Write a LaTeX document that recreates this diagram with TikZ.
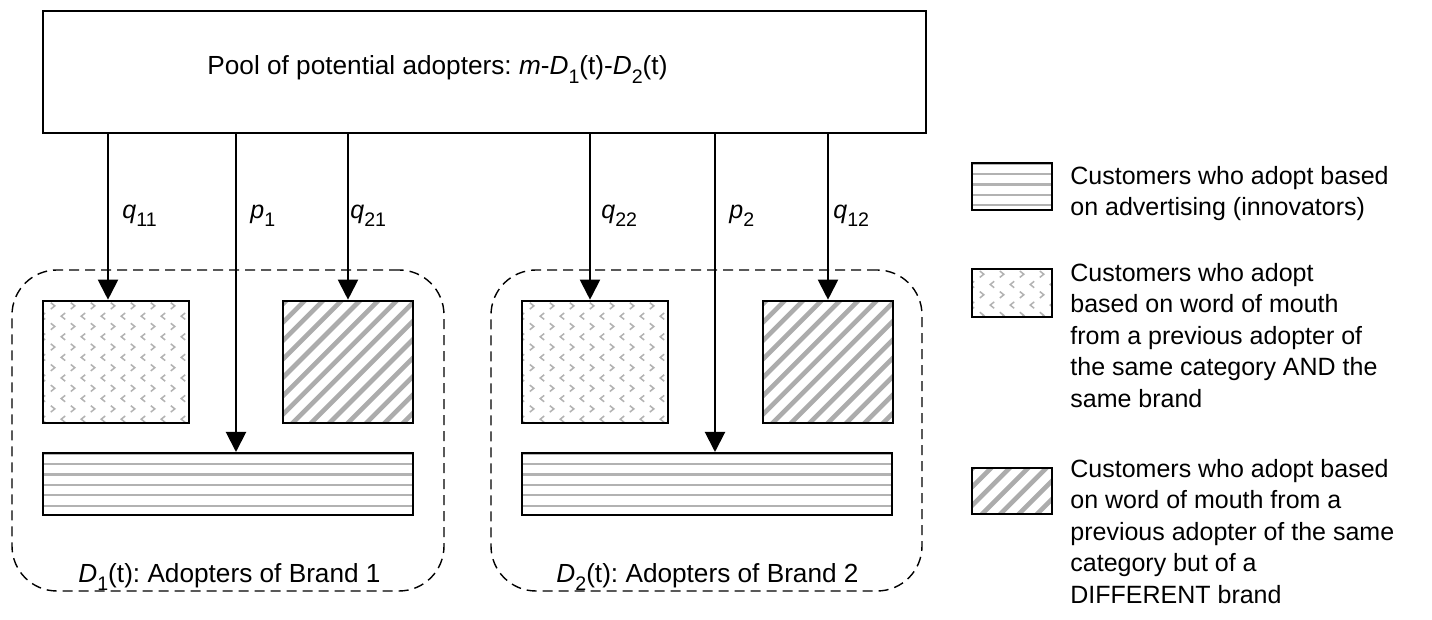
\documentclass[tikz,border=0pt]{standalone}
\usepackage{fontspec}
\setmainfont{Liberation Sans}
\usetikzlibrary{arrows.meta}
\frenchspacing

% lowered index, as in D_1
\newcommand\lowidx[1]{\raisebox{-0.32em}{\fontsize{9.8pt}{10pt}\selectfont #1}}

\tikzset{
  txt/.style={font=\fontsize{12.5pt}{15.75pt}\selectfont, inner sep=0pt},
  bigtxt/.style={font=\fontsize{13.1pt}{15.75pt}\selectfont, inner sep=0pt},
  sz/.style 2 args={minimum width=#1*0.5pt, minimum height=#2*0.5pt},
  box/.style={draw, line width=1pt, inner sep=0pt, fill=white},
  group/.style={draw, dashed, dash pattern=on 5pt off 3pt, line width=0.7pt,
    rounded corners=22.5pt, inner sep=0pt},
  arr/.style={line width=1pt, -{Triangle[length=10pt,width=10pt]}},
  hl/.style={draw=gray!60, line width=1.1pt},
  dl/.style={draw=gray!65, line width=2.3pt},
  ch/.style={draw=gray!60, line width=0.75pt},
  % innovators: horizontal lines
  hpat/.style={box, path picture={
    \foreach \k in {0,...,14}
      \draw[hl] ([yshift=-0.4pt-\k*5.2pt, xshift=-2pt]path picture bounding box.north west) -- ++(300pt,0);
  }},
  % word of mouth, other brand: diagonal stripes
  dpat/.style={box, path picture={
    \foreach \k in {-12,...,12}
      \draw[dl] ([xshift=5pt+\k*9.2pt]path picture bounding box.south west) ++(-80pt,-80pt) -- ++(200pt,200pt);
  }},
  % word of mouth, same brand: scattered chevrons
  wpat/.style={box, path picture={
    \foreach \i in {0,...,8}
      \foreach \j in {0,...,7} {
        \draw[ch] ([xshift=\i*10pt, yshift=-7.75pt-\j*10.3pt]path picture bounding box.north west)
          ++(1.1pt,1.6pt) -- ++(-2pt,-1.6pt) -- ++(2pt,-1.6pt);
        \draw[ch] ([xshift=5pt+\i*10pt, yshift=-2.6pt-\j*10.3pt]path picture bounding box.north west)
          ++(-1.1pt,1.6pt) -- ++(2pt,-1.6pt) -- ++(-2pt,-1.6pt);
      }
  }},
}

\begin{document}
\begin{tikzpicture}[x=0.5pt, y=-0.5pt]
\useasboundingbox (0,0) rectangle (1432,620);

% brand groups
\node[group, sz={432}{321}] (g1) at (228,430.5) {};
\node[group, sz={431}{321}] (g2) at (706.5,430.5) {};
\node[bigtxt, anchor=base] (g1lab) at (229.5,582) {\textit{D}\lowidx{1}(t): Adopters of Brand 1};
\node[bigtxt, anchor=base] (g2lab) at (707.5,582) {\textit{D}\lowidx{2}(t): Adopters of Brand 2};

% pool of potential adopters
\node[box, sz={883}{122}] (pool) at (484.5,72) {};
\node[bigtxt, anchor=base west] (pooltxt) at (207,75)
  {Pool of potential adopters: \textit{m}-\textit{D}\lowidx{1}(t)-\textit{D}\lowidx{2}(t)};

% adopter segments, brand 1
\node[wpat, sz={146}{122}] (w1) at (116,361.7) {};
\node[dpat, sz={130}{122}] (d1) at (348,361.7) {};
\node[hpat, sz={370}{62}] (h1) at (228,484) {};
% adopter segments, brand 2
\node[wpat, sz={146}{122}] (w2) at (595,361.7) {};
\node[dpat, sz={130}{122}] (d2) at (828,361.7) {};
\node[hpat, sz={370}{62}] (h2) at (707,484) {};

% flow positions
\coordinate (a11) at (108,0);
\coordinate (ap1) at (236,0);
\coordinate (a21) at (348,0);
\coordinate (a22) at (590,0);
\coordinate (ap2) at (715,0);
\coordinate (a12) at (828,0);

\draw[arr] (pool.south -| a11) -- (w1.north -| a11);
\draw[arr] (pool.south -| ap1) -- (h1.north -| ap1);
\draw[arr] (pool.south -| a21) -- (d1.north -| a21);
\draw[arr] (pool.south -| a22) -- (w2.north -| a22);
\draw[arr] (pool.south -| ap2) -- (h2.north -| ap2);
\draw[arr] (pool.south -| a12) -- (d2.north -| a12);

\node[txt, anchor=base west] (l11) at (122,219) {\textit{q}\lowidx{11}};
\node[txt, anchor=base west] (lp1) at (250,219) {\textit{p}\lowidx{1}};
\node[txt, anchor=base west] (l21) at (350,219) {\textit{q}\lowidx{21}};
\node[txt, anchor=base west] (l22) at (601,219) {\textit{q}\lowidx{22}};
\node[txt, anchor=base west] (lp2) at (729,219) {\textit{p}\lowidx{2}};
\node[txt, anchor=base west] (l12) at (833,219) {\textit{q}\lowidx{12}};

% legend
\node[hpat, sz={80}{47}] (kh) at (1012,186.5) {};
\node[wpat, sz={80}{48}] (kw) at (1012,293) {};
\node[dpat, sz={80}{46}] (kd) at (1012,491) {};

\node[txt, anchor=north west, align=left] (kht) at (1070,165.5)
  {Customers who adopt based\\on advertising (innovators)};
\node[txt, anchor=north west, align=left] (kwt) at (1070,262.5)
  {Customers who adopt\\based on word of mouth\\from a previous adopter of\\the same category AND the\\same brand};
\node[txt, anchor=north west, align=left] (kdt) at (1070,458.5)
  {Customers who adopt based\\on word of mouth from a\\previous adopter of the same\\category but of a\\DIFFERENT brand};
\end{tikzpicture}
\end{document}
